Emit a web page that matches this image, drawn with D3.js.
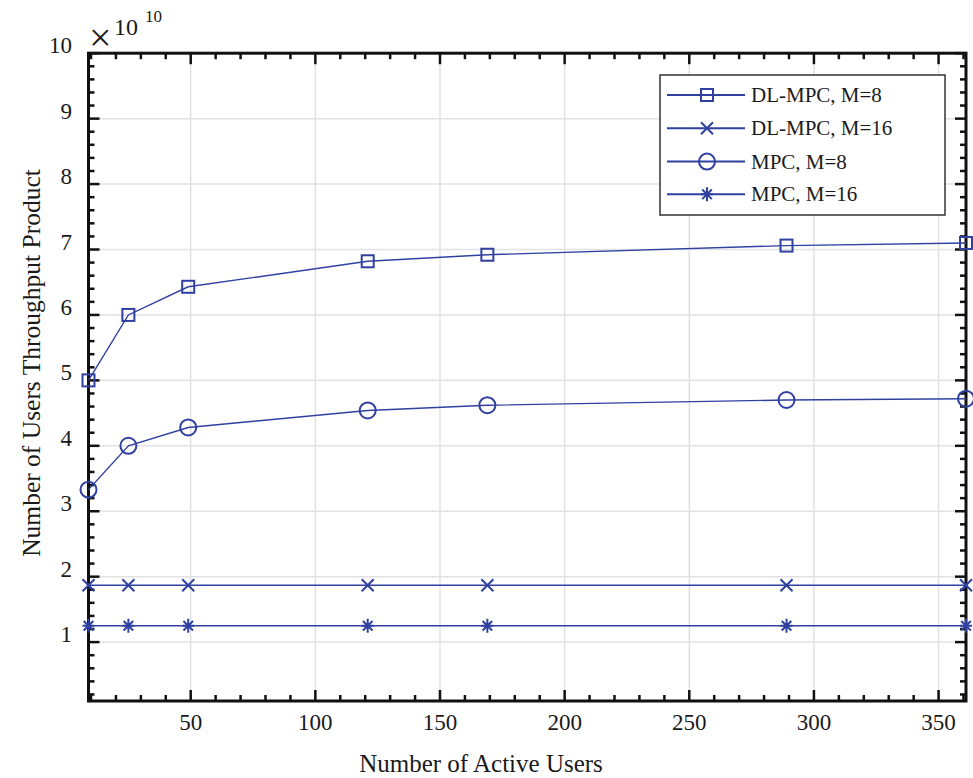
<!DOCTYPE html>
<html>
<head>
<meta charset="utf-8">
<script src="https://cdn.jsdelivr.net/npm/d3@7"></script>
<style>
  html, body { margin: 0; padding: 0; background: #fff; }
  svg { display: block; }
  svg text { font-family: "Liberation Serif", "DejaVu Serif", serif; }
</style>
</head>
<body>
<svg id="chart" width="973" height="778" font-family="Liberation Serif, serif"></svg>
<script>
// ---- data ----
const users = [9, 25, 49, 121, 169, 289, 361];
const dlmpcM8 = [5.0, 6.0, 6.43, 6.82, 6.92, 7.06, 7.10];
const dlmpcM16 = [1.87, 1.87, 1.87, 1.87, 1.87, 1.87, 1.87];
const mpcM8 = [3.33, 4.0, 4.28, 4.54, 4.62, 4.70, 4.72];
const mpcM16 = [1.25, 1.25, 1.25, 1.25, 1.25, 1.25, 1.25];
const seriesNames = ["DL-MPC, M=8", "DL-MPC, M=16", "MPC, M=8", "MPC, M=16"];
const seriesMarkers = ["square", "x", "circle", "star"];
const xTickLabels = [50, 100, 150, 200, 250, 300, 350];
const yTickLabels = [1, 2, 3, 4, 5, 6, 7, 8, 9, 10];
const xLabel = "Number of Active Users";
const yLabel = "Number of Users Throughput Product";

const series = [dlmpcM8, dlmpcM16, mpcM8, mpcM16].map((vals, i) => ({
  name: seriesNames[i], marker: seriesMarkers[i],
  pts: users.map((u, j) => ({ x: u, y: vals[j] }))
}));

// ---- layout ----
const L = 88.5, R = 966, T = 53.2, B = 701;
const blue = "#2f40a0";
const ink = "#1a1a1a";
const FF = "Liberation Serif, serif";
const svg = d3.select("#chart");
const x = d3.scaleLinear().domain([9, 361]).range([L, R]);
const y = d3.scaleLinear().domain([0.1, 10]).range([B, T]);

function txt(g) { return g.append("text").attr("font-family", FF).attr("fill", ink); }

// gridlines
const grid = svg.append("g").attr("stroke", "#e2e2e2").attr("stroke-width", 1.5);
xTickLabels.forEach(v => grid.append("line").attr("x1", x(v)).attr("x2", x(v)).attr("y1", T).attr("y2", B));
yTickLabels.forEach(v => grid.append("line").attr("x1", L).attr("x2", R).attr("y1", y(v)).attr("y2", y(v)));

// ticks (inward, all four sides)
const xMinor = d3.range(10, 361, 10);
const yMinor = d3.range(2, 101, 2).map(d => d / 10);
const tk = svg.append("g").attr("stroke", "#111").attr("stroke-width", 2.5);
xMinor.forEach(v => {
  const len = v % 50 === 0 ? 11 : 6;
  tk.append("line").attr("x1", x(v)).attr("x2", x(v)).attr("y1", B).attr("y2", B - len);
  tk.append("line").attr("x1", x(v)).attr("x2", x(v)).attr("y1", T).attr("y2", T + len);
});
yMinor.forEach(v => {
  const len = Math.abs(v - Math.round(v)) < 1e-6 ? 11 : 6;
  tk.append("line").attr("y1", y(v)).attr("y2", y(v)).attr("x1", L).attr("x2", L + len);
  tk.append("line").attr("y1", y(v)).attr("y2", y(v)).attr("x1", R).attr("x2", R - len);
});

// frame
svg.append("rect").attr("x", L).attr("y", T).attr("width", R - L).attr("height", B - T)
  .attr("fill", "none").attr("stroke", "#111").attr("stroke-width", 3);

// tick labels
const gx = svg.append("g");
xTickLabels.forEach(d => txt(gx).attr("x", x(d)).attr("y", B + 29).attr("text-anchor", "middle")
  .attr("font-size", 23).text(d));
const gy = svg.append("g");
yTickLabels.forEach(d => txt(gy).attr("x", 72).attr("y", y(d)).attr("text-anchor", "end")
  .attr("font-size", 23).text(d));

// exponent
txt(svg).attr("x", 89).attr("y", 51).attr("font-size", 40).text("\u00d7");
txt(svg).attr("x", 114).attr("y", 35).attr("font-size", 24).text("10");
txt(svg).attr("x", 145).attr("y", 22).attr("font-size", 17).text("10");

// axis labels
txt(svg).attr("x", 481).attr("y", 772).attr("text-anchor", "middle")
  .attr("font-size", 25).text(xLabel);
txt(svg).attr("transform", "translate(40,363) rotate(-90)").attr("text-anchor", "middle")
  .attr("font-size", 25.5).text(yLabel);

// marker drawing
function drawMarker(g, type, cx, cy) {
  const s = 6;
  if (type === "square") {
    g.append("rect").attr("x", cx - s).attr("y", cy - s).attr("width", 2 * s).attr("height", 2 * s)
      .attr("fill", "none").attr("stroke", blue).attr("stroke-width", 2);
  } else if (type === "circle") {
    g.append("circle").attr("cx", cx).attr("cy", cy).attr("r", 8)
      .attr("fill", "none").attr("stroke", blue).attr("stroke-width", 2);
  } else if (type === "x") {
    g.append("path").attr("d", `M${cx - s},${cy - s}L${cx + s},${cy + s}M${cx - s},${cy + s}L${cx + s},${cy - s}`)
      .attr("stroke", blue).attr("stroke-width", 2).attr("fill", "none");
  } else {
    const d = s * 0.8;
    g.append("path").attr("d", `M${cx},${cy - s - 1}L${cx},${cy + s + 1}M${cx - s},${cy}L${cx + s},${cy}M${cx - d},${cy - d}L${cx + d},${cy + d}M${cx - d},${cy + d}L${cx + d},${cy - d}`)
      .attr("stroke", blue).attr("stroke-width", 2).attr("fill", "none");
  }
}

// series
const line = d3.line().x(d => x(d.x)).y(d => y(d.y));
series.forEach(s => {
  const g = svg.append("g");
  g.append("path").datum(s.pts).attr("d", line).attr("fill", "none")
    .attr("stroke", blue).attr("stroke-width", 1.4);
  s.pts.forEach(p => drawMarker(g, s.marker, x(p.x), y(p.y)));
});

// legend
const lg = svg.append("g");
lg.append("rect").attr("x", 660).attr("y", 75).attr("width", 285).attr("height", 140)
  .attr("fill", "#fff").attr("stroke", "#333").attr("stroke-width", 1.5);
const rowY = [95, 128.3, 161.6, 194.3];
series.forEach((s, i) => {
  const ry = rowY[i];
  lg.append("line").attr("x1", 667).attr("x2", 745).attr("y1", ry).attr("y2", ry)
    .attr("stroke", blue).attr("stroke-width", 2);
  drawMarker(lg, s.marker, 707, ry);
  txt(lg).attr("x", 751).attr("y", ry + 7).attr("font-size", 21).text(s.name);
});
</script>
</body>
</html>
